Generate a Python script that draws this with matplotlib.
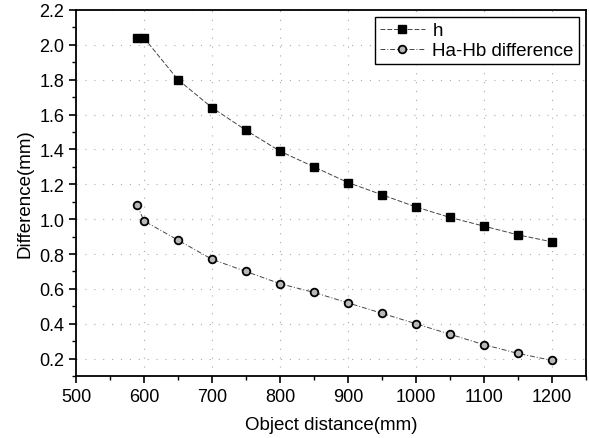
import matplotlib
matplotlib.use("Agg")
import matplotlib.pyplot as plt
from matplotlib.ticker import MultipleLocator

distance = [590, 600, 650, 700, 750, 800, 850, 900, 950, 1000, 1050, 1100, 1150, 1200]
h_values = [2.04, 2.04, 1.80, 1.64, 1.51, 1.39, 1.30, 1.21, 1.14, 1.07, 1.01, 0.96, 0.91, 0.87]
hab_values = [1.08, 0.99, 0.88, 0.77, 0.70, 0.63, 0.58, 0.52, 0.46, 0.40, 0.34, 0.28, 0.23, 0.19]

plt.rcParams.update({"font.family": ["Liberation Sans", "DejaVu Sans"]})

fig = plt.figure(figsize=(5.89, 4.39), dpi=100)
ax = fig.add_axes([0.129, 0.141, 0.866, 0.834])

ax.plot(distance, h_values, color="#444444", lw=0.7, ls=(0, (5, 2)),
        marker="s", ms=6, mfc="black", mec="black", label="h")
ax.plot(distance, hab_values, color="#444444", lw=0.7, ls=(0, (5, 2, 1, 2)),
        marker="o", ms=5.5, mfc="#b8b8b8", mec="black", mew=1.3,
        label="Ha-Hb difference")

ax.set_xlim(500, 1250)
ax.set_ylim(0.1, 2.2)
ax.xaxis.set_major_locator(MultipleLocator(100))
ax.xaxis.set_minor_locator(MultipleLocator(50))
ax.yaxis.set_major_locator(MultipleLocator(0.2))
ax.yaxis.set_minor_locator(MultipleLocator(0.1))
ax.set_yticks([0.2, 0.4, 0.6, 0.8, 1.0, 1.2, 1.4, 1.6, 1.8, 2.0, 2.2])
ax.tick_params(which="major", direction="out", length=5, width=1.2, labelsize=13)
ax.tick_params(which="minor", direction="out", length=3, width=1.0)
ax.grid(which="major", color="#aaaaaa", ls=(0, (1, 7)), lw=0.8)
for s in ax.spines.values():
    s.set_linewidth(1.3)

ax.set_xlabel("Object distance(mm)", fontsize=13.5, labelpad=8)
ax.set_ylabel("Difference(mm)", fontsize=13.5, labelpad=4)

leg = ax.legend(loc="upper right", fontsize=13.5, fancybox=False, framealpha=1,
                edgecolor="black", handlelength=2.4, borderaxespad=0.4,
                borderpad=0.25, labelspacing=0.15, handletextpad=0.4)
leg.get_frame().set_linewidth(1.0)

fig.savefig("out.png", dpi=100)
